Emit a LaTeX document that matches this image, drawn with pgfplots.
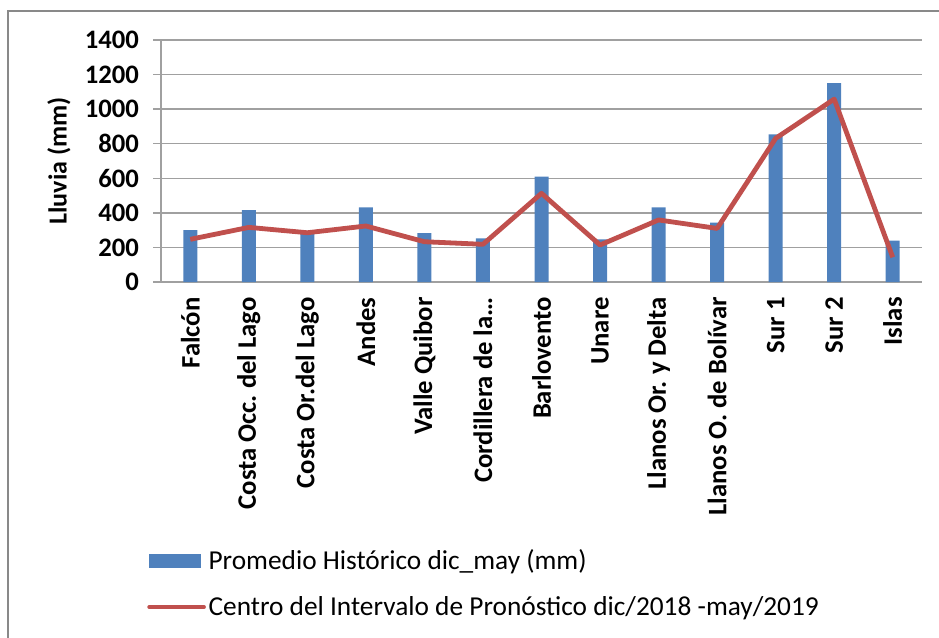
\documentclass[border=0pt]{standalone}
\usepackage{pgfplots}
\pgfplotsset{compat=1.18}
\usepackage{fontspec}
\setmainfont{Carlito}
\definecolor{barblue}{HTML}{4F81BD}
\definecolor{linered}{HTML}{C0504D}
\definecolor{gridgray}{HTML}{A0A0A0}
\definecolor{bordergray}{HTML}{898989}
\begin{document}
\begin{tikzpicture}
\useasboundingbox (0pt,0pt) rectangle (704.25pt,477.75pt);
\draw[bordergray,line width=1.6pt] (6pt,-5pt) -- (6pt,469.5pt) -- (710pt,469.5pt);
\begin{axis}[
  at={(120.75pt,266.25pt)}, anchor=south west,
  scale only axis, width=570.75pt, height=181.5pt,
  xmin=-0.5, xmax=12.5, ymin=0, ymax=1400,
  ytick={0,200,...,1400},
  xtick={0,...,12},
  xticklabels={Falcón,Costa Occ.\ del Lago,Costa Or.del Lago,Andes,Valle Quibor,Cordillera de la\ldots,Barlovento,Unare,Llanos Or.\ y Delta,Llanos O.\ de Bolívar,Sur 1,Sur 2,Islas},
  axis x line*=bottom, axis y line*=left,
  x axis line style={draw=gridgray,line width=1.1pt,-},
  y axis line style={draw=gridgray,line width=1.1pt,-},
  ymajorgrids, major grid style={draw=gridgray,line width=1.1pt},
  ytick style={draw=gridgray,line width=1.1pt},
  ytick align=outside, major tick length=6pt,
  xtick style={draw=none},
  /pgf/number format/assume math mode=true,
  /pgf/number format/1000 sep={},
  yticklabel style={font=\fontsize{20}{22}\selectfont\bfseries, xshift=-7pt},
  xticklabel style={font=\fontsize{20}{22}\selectfont\bfseries, rotate=90, anchor=east, xshift=-8pt},
  ylabel={Lluvia (mm)},
  ylabel style={font=\fontsize{19.5}{22}\selectfont\bfseries, at={(axis description cs:-0.134,0.5)}, anchor=center},
  legend style={at={(axis description cs:-0.0184,-1.095)}, anchor=north west, draw=none, fill=none,
    font=\fontsize{20.5}{24}\selectfont, row sep=14.5pt, cells={anchor=west}, inner sep=0pt},
  legend cell align=left,
]
\addplot[ybar, bar width=10.5pt, fill=barblue, draw=none,
  legend image code/.code={\fill[barblue] (0pt,-5.25pt) rectangle (39pt,5.25pt);}]
  coordinates {(0,300) (1,416) (2,280) (3,432) (4,283) (5,253) (6,609) (7,247) (8,432) (9,343) (10,854) (11,1151) (12,239)};
\addlegendentry{Promedio Histórico dic\_may (mm)}
\addplot[linered, line width=3.6pt, line join=round,
  legend image code/.code={\draw[linered,line width=3pt,line cap=round] (0pt,0pt) -- (41pt,0pt);}]
  coordinates {(0,247) (1,316) (2,285) (3,324) (4,233) (5,218) (6,513) (7,214) (8,359) (9,310) (10,831) (11,1058) (12,143)};
\addlegendentry{Centro del Intervalo de Pronóstico dic/2018 -may/2019}
\end{axis}
\end{tikzpicture}
\end{document}
